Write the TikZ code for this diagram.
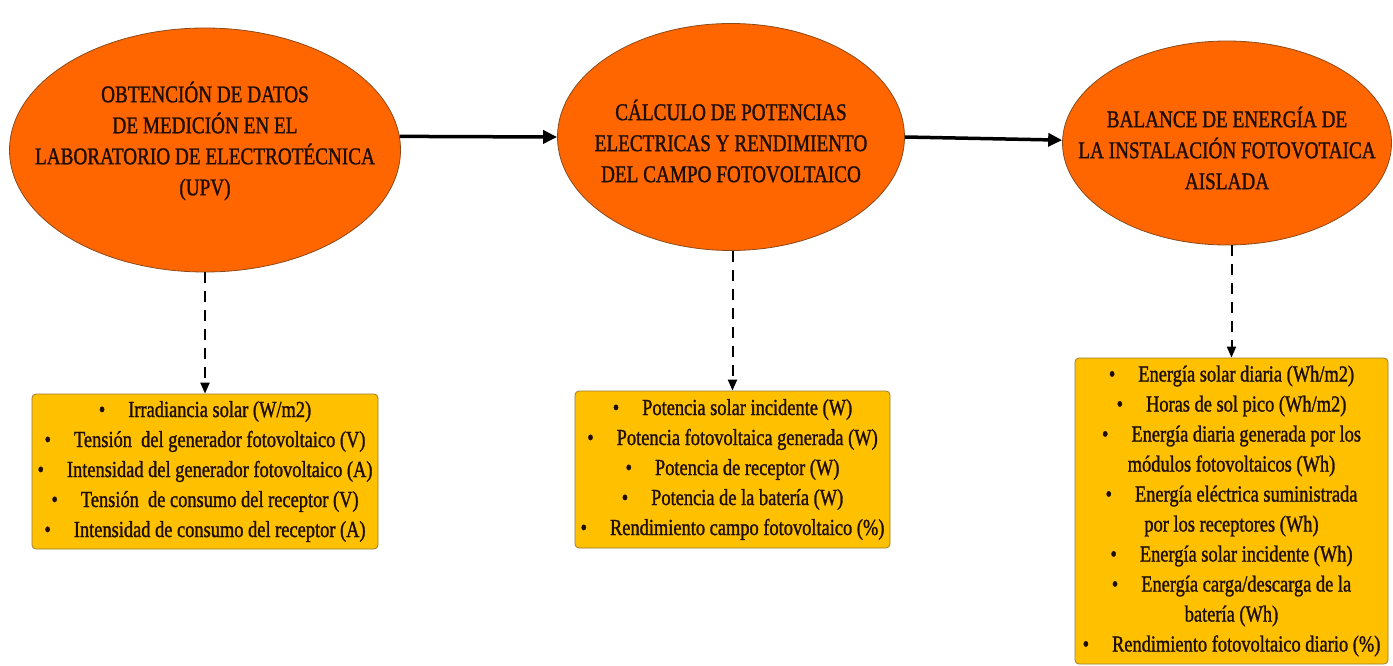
\documentclass[tikz,border=0pt]{standalone}
\usepackage{fontspec}
\setmainfont{Liberation Serif}[FakeStretch=0.8,FakeBold=1.2]
\usetikzlibrary{shapes.geometric,arrows.meta}
\definecolor{ellfill}{HTML}{FF6600}
\definecolor{ellline}{HTML}{8A4A1A}
\definecolor{boxfill}{HTML}{FFC000}
\definecolor{boxline}{HTML}{9A7A30}
\definecolor{txt}{HTML}{1E0E02}
\tikzset{
  stage/.style={ellipse, draw=ellline, line width=0.8pt, fill=ellfill, inner sep=0pt},
  stagetext/.style={align=center, text=txt, font=\fontsize{24}{31}\selectfont, inner sep=0pt},
  listbox/.style={rectangle, rounded corners=4pt, draw=boxline, line width=0.8pt, fill=boxfill,
    inner sep=0pt, align=center, text=txt, font=\fontsize{23}{30}\selectfont},
  flow/.style={line width=3.5pt, -{Triangle[length=14pt,width=13pt]}},
  detail/.style={line width=2pt, dash pattern=on 11pt off 8pt, -{Triangle[length=11pt,width=9pt]}}
}
\begin{document}
\begin{tikzpicture}[x=1pt,y=-1pt]
\useasboundingbox (0,0) rectangle (1393,666);
\node[stage, minimum width=391pt, minimum height=244pt,
  label={[stagetext, yshift=9pt]center:OBTENCIÓN DE DATOS\\DE MEDICIÓN EN EL\\LABORATORIO DE ELECTROTÉCNICA\\(UPV)}] (e1) at (205,150) {};
\node[stage, minimum width=347pt, minimum height=227pt,
  label={[stagetext, yshift=-4pt]center:CÁLCULO DE POTENCIAS\\ELECTRICAS Y RENDIMIENTO\\DEL CAMPO FOTOVOLTAICO}] (e2) at (731,137) {};
\node[stage, minimum width=329pt, minimum height=204pt,
  label={[stagetext, yshift=-5pt]center:BALANCE DE ENERGÍA DE\\LA INSTALACIÓN FOTOVOTAICA\\AISLADA}] (e3) at (1227,143) {};
\node[listbox, minimum width=346pt, minimum height=155pt] (b1) at (205,471.5)
  {•\quad Irradiancia solar (W/m2)\\
   •\quad Tensión\ \ del generador fotovoltaico (V)\\
   •\quad Intensidad del generador fotovoltaico (A)\\
   •\quad Tensión\ \ de consumo del receptor (V)\\
   •\quad Intensidad de consumo del receptor (A)};
\node[listbox, minimum width=315pt, minimum height=157pt] (b2) at (732.5,469.5)
  {•\quad Potencia solar incidente (W)\\
   •\quad Potencia fotovoltaica generada (W)\\
   •\quad Potencia de receptor (W)\\
   •\quad Potencia de la batería (W)\\
   •\quad Rendimiento campo fotovoltaico (\%)};
\node[listbox, minimum width=313pt, minimum height=306pt] (b3) at (1231.5,511)
  {•\quad Energía solar diaria (Wh/m2)\\
   •\quad Horas de sol pico (Wh/m2)\\
   •\quad Energía diaria generada por los\\
   módulos fotovoltaicos (Wh)\\
   •\quad Energía eléctrica suministrada\\
   por los receptores (Wh)\\
   •\quad Energía solar incidente (Wh)\\
   •\quad Energía carga/descarga de la\\
   batería (Wh)\\
   •\quad Rendimiento fotovoltaico diario (\%)};
\draw[flow] (e1.4) -- (e2.west);
\draw[flow] (e2.east) -- (e3.179);
\draw[detail] (e1.south) -- (b1.north);
\draw[detail] (e2.south -| b2.north) -- (b2.north);
\draw[detail] (e3.south -| b3.north) -- (b3.north);
\end{tikzpicture}
\end{document}
